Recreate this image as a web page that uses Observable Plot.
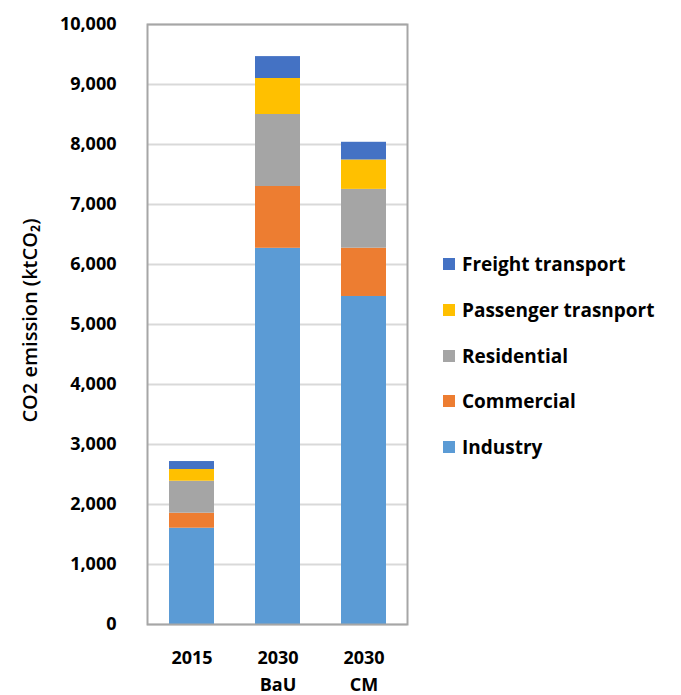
<!DOCTYPE html>
<html>
<head>
<meta charset="utf-8">
<script src="https://cdn.jsdelivr.net/npm/d3@7"></script>
<script src="https://cdn.jsdelivr.net/npm/@observablehq/plot@0.6"></script>
<style>
  html, body { margin: 0; padding: 0; background: #fff; }
  #wrap { position: relative; width: 681px; height: 695px; font-family: "Open Sans", Lato, sans-serif; }
  #legend { position: absolute; left: 443px; top: 251px; }
  .li { display: flex; align-items: center; height: 26px; margin-bottom: 19.75px; font-size: 19px; font-weight: bold; color: #000; letter-spacing: 0px; }
  .sw { width: 12px; height: 12px; margin-right: 7px; }
</style>
</head>
<body>
<div id="wrap"></div>
<script>
const categories = ["2015", "2030 BaU", "2030 CM"];
const sectors = ["Industry", "Commercial", "Residential", "Passenger trasnport", "Freight transport"];
const colors = ["#5b9bd5", "#ed7d31", "#a5a5a5", "#ffc000", "#4472c4"];
const industry = [1605, 6270, 5467];
const commercial = [250, 1030, 805];
const residential = [533, 1200, 980];
const passenger = [195, 600, 490];
const freight = [133, 365, 295];
const yTicks = [0, 1000, 2000, 3000, 4000, 5000, 6000, 7000, 8000, 9000, 10000];

const series = [industry, commercial, residential, passenger, freight];
const data = [];
sectors.forEach((s, i) => categories.forEach((c, j) => data.push({category: c, sector: s, value: series[i][j]})));

const chart = Plot.plot({
  width: 681,
  height: 695,
  marginLeft: 147,
  marginRight: 274,
  marginTop: 24,
  marginBottom: 71,
  style: {fontFamily: "'Open Sans', Lato, sans-serif", fontSize: "18px", fontWeight: "bold", color: "#000"},
  x: {domain: categories, paddingInner: 0.48, paddingOuter: 0.24},
  y: {domain: [0, 10000]},
  color: {domain: sectors, range: colors},
  marks: [
    Plot.gridY(yTicks, {stroke: "#d9d9d9", strokeWidth: 2, strokeOpacity: 1}),
    Plot.barY(data, {x: "category", y: "value", fill: "sector", order: sectors}),
    Plot.frame({stroke: "#a6a6a6", strokeWidth: 2}),
    Plot.axisY(yTicks, {tickSize: 0, tickPadding: 31, tickFormat: d3.format(","), label: null, letterSpacing: -0.3}),
    Plot.axisX({tickSize: 0, tickPadding: 20, tickFormat: d => d.replace(" ", "\n"), lineHeight: 1.5, label: null}),
    Plot.text(["CO2 emission (ktCO₂)"], {frameAnchor: "left", textAnchor: "middle", dx: -117, dy: -4, rotate: -90, fontWeight: 600, fontSize: 20})
  ]
});
document.getElementById("wrap").appendChild(chart);

const legend = document.createElement("div");
legend.id = "legend";
sectors.slice().reverse().forEach((s, k) => {
  const i = sectors.length - 1 - k;
  const row = document.createElement("div");
  row.className = "li";
  const sw = document.createElement("div");
  sw.className = "sw";
  sw.style.background = colors[i];
  const t = document.createElement("span");
  t.textContent = s;
  row.appendChild(sw);
  row.appendChild(t);
  legend.appendChild(row);
});
document.getElementById("wrap").appendChild(legend);
</script>
</body>
</html>
